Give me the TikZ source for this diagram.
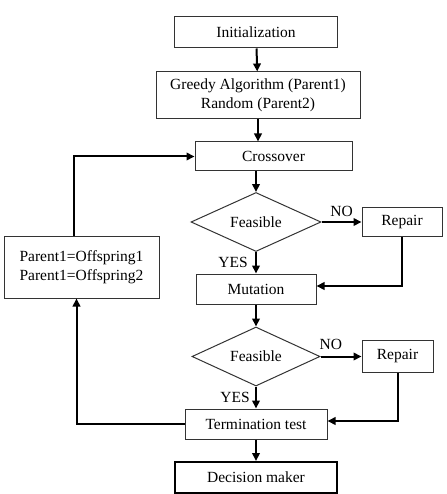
\documentclass[tikz,border=0pt]{standalone}
\usepackage{fontspec}
\setmainfont{Liberation Serif}
\usetikzlibrary{arrows.meta,shapes.geometric}
\begin{document}
\begin{tikzpicture}[x=1pt,y=-1pt,font=\fontsize{15.5}{19}\selectfont,
  box/.style={draw=black!80,line width=1pt,inner sep=0pt,align=center},
  test/.style={draw=black!80,line width=1pt,diamond,inner sep=0pt,aspect=2.2},
  arr/.style={line width=2pt,-{Triangle[length=8pt,width=7.5pt]}}]
\useasboundingbox (0,0) rectangle (446,494);
\node[box,minimum width=163,minimum height=31] (init) at (256,32.5) {Initialization};
\node[box,minimum width=204,minimum height=47] (greedy) at (258,95.5) {Greedy Algorithm (Parent1)\\Random (Parent2)};
\node[box,minimum width=157,minimum height=29] (cross) at (273.5,156.5) {Crossover};
\node[test,minimum width=130,minimum height=59] (feas1) at (256,222) {Feasible};
\node[box,minimum width=80,minimum height=29] (rep1) at (402,222) {Repair};
\node[box,minimum width=120,minimum height=30] (mut) at (256,289) {Mutation};
\node[box,minimum width=155,minimum height=62] (par) at (81.5,267) {Parent1=Offspring1\\Parent1=Offspring2};
\node[test,minimum width=128,minimum height=59] (feas2) at (256,356.5) {Feasible};
\node[box,minimum width=71,minimum height=32] (rep2) at (397.5,356.5) {Repair};
\node[box,minimum width=142,minimum height=30] (term) at (256,424) {Termination test};
\node[box,line width=2pt,draw=black,minimum width=162,minimum height=31] (dec) at (256,477.5) {Decision maker};
\draw[arr] (init) -- (greedy);
\draw[arr] (greedy.south) -- (greedy.south |- cross.north);
\draw[arr] (feas1.north |- cross.south) -- (feas1.north);
\draw[arr] (feas1.east) -- node[above=1pt] {NO} (rep1.west);
\draw[arr] (feas1.south) -- node[left=4pt] {YES} (mut.north);
\draw[arr] (rep1.south) |- ([yshift=3]mut.east);
\draw[arr] (mut) -- (feas2);
\draw[arr] (feas2.east) -- node[pos=0.25,above=3pt] {NO} (rep2.west);
\draw[arr] (feas2.south) -- node[left=2pt] {YES} (term.north);
\draw[arr] (rep2.south) |- ([yshift=3]term.east);
\draw[arr] (term) -- (dec);
\draw[arr] (term.west) -| ([xshift=-5]par.south);
\draw[arr] ([xshift=-8]par.north) |- (cross.west);
\end{tikzpicture}
\end{document}
